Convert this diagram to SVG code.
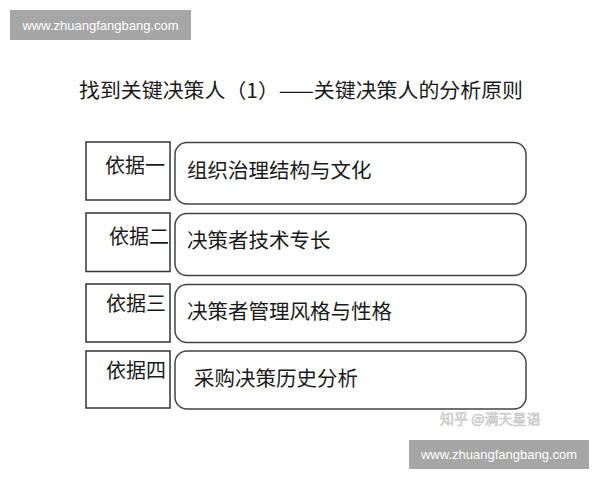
<svg xmlns="http://www.w3.org/2000/svg" width="600" height="480" viewBox="0 0 600 480">
<style>
.cn{font-family:"Noto Sans CJK SC","Liberation Sans",sans-serif;fill:#1a1a1a}
.lab{stroke:#333;stroke-width:1.5;fill:#fff}
.box{stroke:#444;stroke-width:1.5;fill:#fff}
.wm{fill:#a6a6a6}
.wmt{font-family:"Liberation Sans",Arial,sans-serif;font-size:13px;fill:#fff}
</style>
<rect width="600" height="480" fill="#fff"/>
<g id="watermark-top">
<rect class="wm" x="10" y="10" width="181" height="30"/>
<text class="wmt" x="100.5" y="29.5" text-anchor="middle">www.zhuangfangbang.com</text>
</g>
<text class="cn" x="79" y="98" font-size="20" textLength="444" lengthAdjust="spacingAndGlyphs">找到关键决策人（1）——关键决策人的分析原则</text>
<g id="connectors"></g>
<g id="node1">
<rect class="lab" x="86" y="142" width="84" height="58"/>
<text class="cn" x="105" y="173" font-size="20">依据一</text>
<rect class="box" x="175" y="142.5" width="351" height="61.5" rx="12"/>
<text class="cn" x="187" y="178" font-size="20.5">组织治理结构与文化</text>
</g>
<g id="node2">
<rect class="lab" x="86" y="213" width="84" height="58.5"/>
<text class="cn" x="109" y="244" font-size="20">依据二</text>
<rect class="box" x="175" y="213.5" width="351" height="62" rx="12"/>
<text class="cn" x="187" y="248" font-size="20.5">决策者技术专长</text>
</g>
<g id="node3">
<rect class="lab" x="86" y="284" width="84" height="58"/>
<text class="cn" x="106" y="311" font-size="20">依据三</text>
<rect class="box" x="175" y="284.5" width="351" height="58" rx="12"/>
<text class="cn" x="187" y="319" font-size="20.5">决策者管理风格与性格</text>
</g>
<g id="node4">
<rect class="lab" x="86" y="351" width="84" height="57"/>
<text class="cn" x="106" y="378" font-size="20">依据四</text>
<rect class="box" x="175" y="351" width="351" height="58" rx="12"/>
<text class="cn" x="194" y="386" font-size="20.5">采购决策历史分析</text>
</g>
<text x="440" y="424" font-family="Noto Sans CJK SC,sans-serif" font-size="14" fill="#e6e6e6" stroke="#c4c4c4" stroke-width="0.6">知乎 @满天星语</text>
<g id="watermark-bottom">
<rect class="wm" x="409" y="440" width="180" height="29"/>
<text class="wmt" x="499" y="459" text-anchor="middle">www.zhuangfangbang.com</text>
</g>
</svg>
